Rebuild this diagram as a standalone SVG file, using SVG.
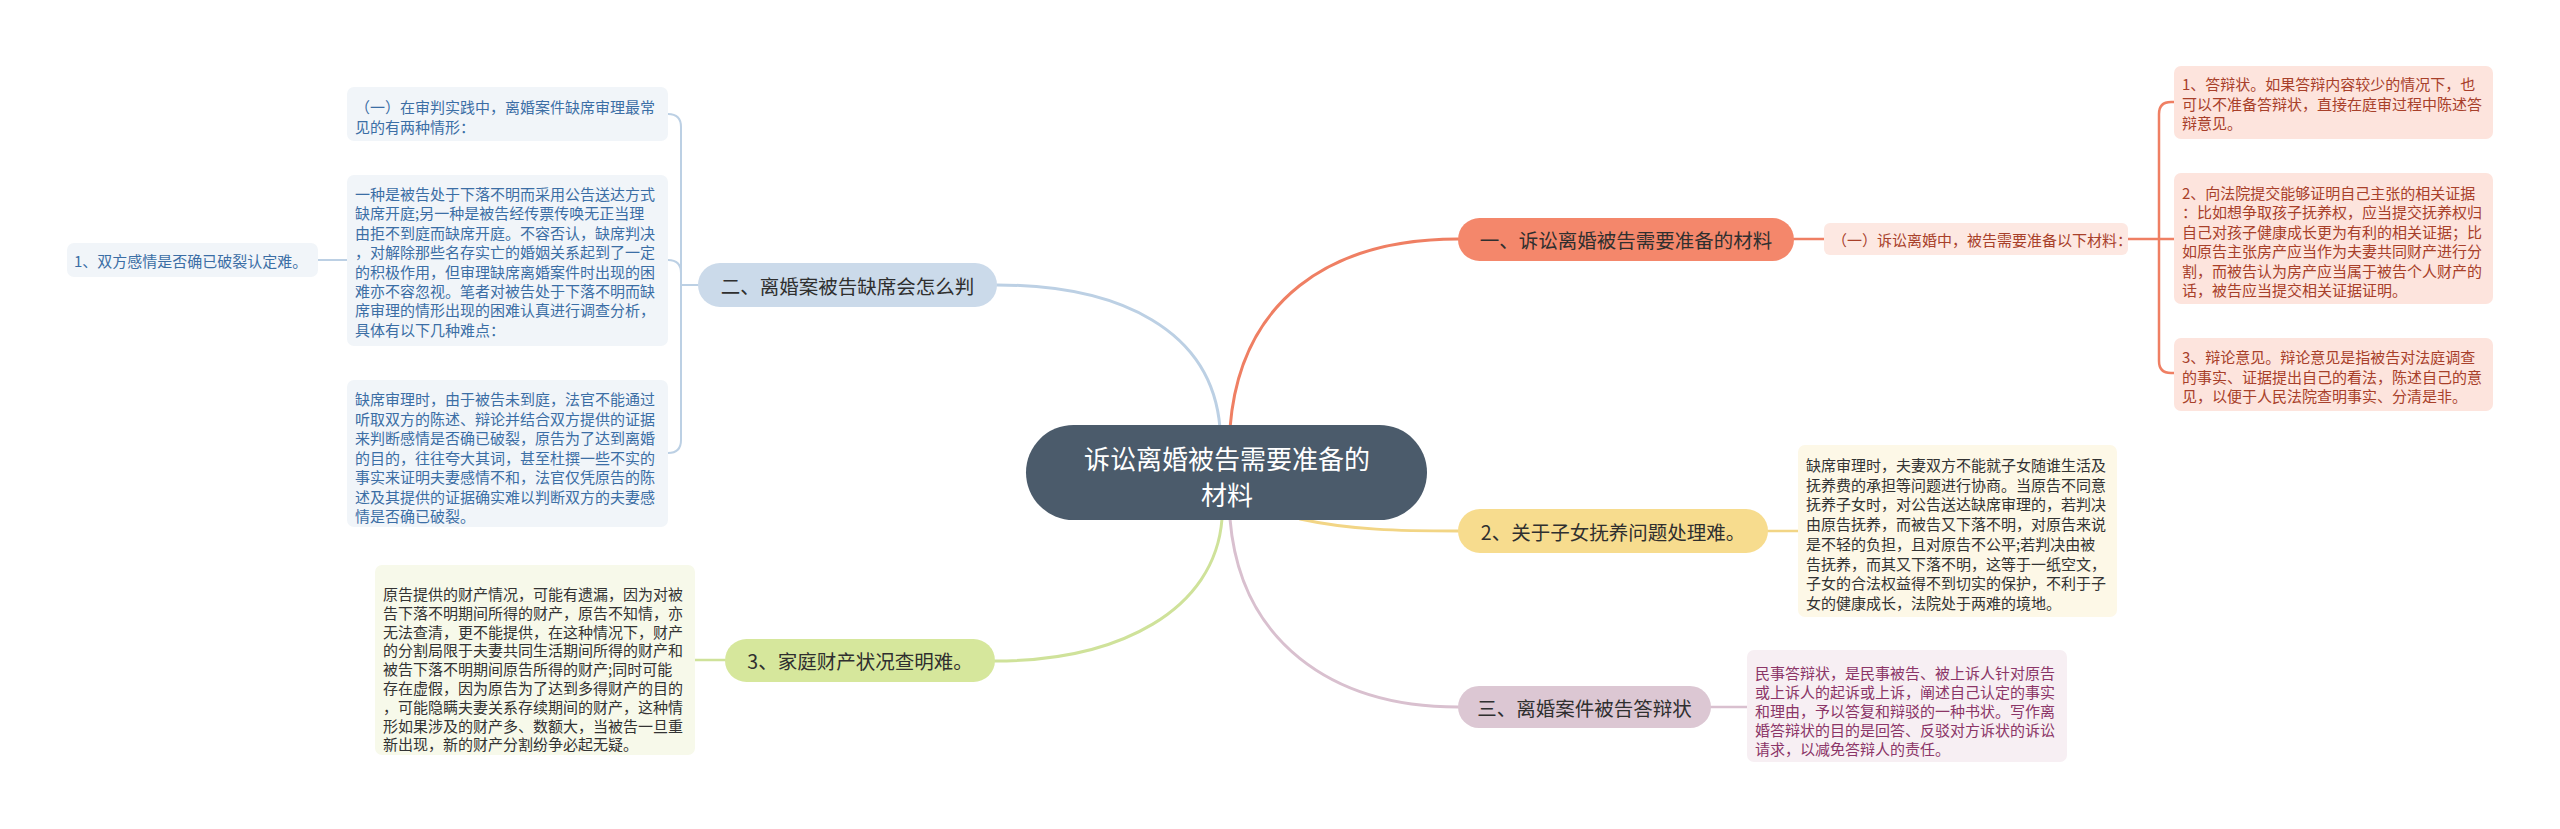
<svg xmlns="http://www.w3.org/2000/svg" width="2560" height="829" viewBox="0 0 2560 829">
<style>
text{font-family:"Noto Sans CJK SC","Noto Sans",sans-serif;dominant-baseline:central}
.main{font-size:19.5px;fill:#2f2f2f;text-anchor:middle}
.lf{font-size:15px}
.blue{fill:#3b6ea5}
.dark{fill:#333333}
.red{fill:#a8402a}
.plum{fill:#8b3567}
.c{fill:none;stroke-linecap:round}
</style>
<rect width="2560" height="829" fill="#ffffff"/>
<g id="connectors">
  <path class="c" d="M1230,428 C1240,300 1330,239 1458,239" stroke="#ef7f63" stroke-width="3"/>
  <path class="c" d="M1220,428 C1212,330 1120,285 997,285" stroke="#bcd0e4" stroke-width="3"/>
  <path class="c" d="M1300,519 C1350,530 1400,531 1458,531" stroke="#f2d585" stroke-width="3"/>
  <path class="c" d="M1222,519 C1215,610 1120,661 995,661" stroke="#cfe29a" stroke-width="3"/>
  <path class="c" d="M1230,519 C1240,640 1330,707 1458,707" stroke="#d9c0cf" stroke-width="3"/>
  <path class="c" d="M1794,239 H1824" stroke="#ef7f63" stroke-width="2.5"/>
  <path class="c" d="M2128,239 H2174 M2174,102 H2171 Q2159,102 2159,114 V361 Q2159,373 2171,373 H2174" stroke="#ef7f63" stroke-width="2.5"/>
  <path class="c" d="M668,114 Q681,114 681,127 V440 Q681,453 668,453 M668,260 Q681,260 681,273 M681,285 H698" stroke="#bcd0e4" stroke-width="2"/>
  <path class="c" d="M318,260 H347" stroke="#bcd0e4" stroke-width="2"/>
  <path class="c" d="M695,660 H725" stroke="#cfe29a" stroke-width="2.5"/>
  <path class="c" d="M1768,531 H1798" stroke="#f2d585" stroke-width="2.5"/>
  <path class="c" d="M1711,707 H1747" stroke="#d9c0cf" stroke-width="2.5"/>
</g>
<g id="root">
  <rect x="1026" y="425" width="401" height="95" rx="47.5" fill="#4b5b6b"/>
  <text x="1227" y="457" font-size="26" fill="#ffffff" text-anchor="middle">诉讼离婚被告需要准备的</text>
  <text x="1227" y="493" font-size="26" fill="#ffffff" text-anchor="middle">材料</text>
</g>
<g id="node-yi">
  <rect x="1458" y="218" width="336" height="43" rx="21.5" fill="#f4876b"/>
  <text class="main" x="1626" y="239.5">一、诉讼离婚被告需要准备的材料</text>
</g>
<g id="leaf-yi-1">
  <rect x="1824" y="223" width="304" height="32" rx="6" fill="#fde8e2"/>
  <text class="lf red" x="1832" y="239">（一）诉讼离婚中，被告需要准备以下材料：</text>
</g>
<g id="leaf-r1">
  <rect x="2174" y="66" width="319" height="73" rx="7" fill="#fde4dd"/>
  <text class="lf red"><tspan x="2182" y="83">1、答辩状。如果答辩内容较少的情况下，也</tspan><tspan x="2182" y="102.5">可以不准备答辩状，直接在庭审过程中陈述答</tspan><tspan x="2182" y="122">辩意见。</tspan></text>
</g>
<g id="leaf-r2">
  <rect x="2174" y="173" width="319" height="131" rx="7" fill="#fde4dd"/>
  <text class="lf red"><tspan x="2182" y="192">2、向法院提交能够证明自己主张的相关证据</tspan><tspan x="2182" y="211.4">：比如想争取孩子抚养权，应当提交抚养权归</tspan><tspan x="2182" y="230.8">自己对孩子健康成长更为有利的相关证据；比</tspan><tspan x="2182" y="250.2">如原告主张房产应当作为夫妻共同财产进行分</tspan><tspan x="2182" y="269.6">割，而被告认为房产应当属于被告个人财产的</tspan><tspan x="2182" y="289">话，被告应当提交相关证据证明。</tspan></text>
</g>
<g id="leaf-r3">
  <rect x="2174" y="338" width="319" height="73" rx="7" fill="#fde4dd"/>
  <text class="lf red"><tspan x="2182" y="356">3、辩论意见。辩论意见是指被告对法庭调查</tspan><tspan x="2182" y="375.5">的事实、证据提出自己的看法，陈述自己的意</tspan><tspan x="2182" y="395">见，以便于人民法院查明事实、分清是非。</tspan></text>
</g>
<g id="node-er">
  <rect x="698" y="263" width="299" height="44" rx="22" fill="#cbdaea"/>
  <text class="main" x="847.5" y="285">二、离婚案被告缺席会怎么判</text>
</g>
<g id="leaf-er-a">
  <rect x="347" y="87" width="321" height="54" rx="7" fill="#f1f5f9"/>
  <text class="lf blue"><tspan x="355" y="106">（一）在审判实践中，离婚案件缺席审理最常</tspan><tspan x="355" y="125.5">见的有两种情形：</tspan></text>
</g>
<g id="leaf-er-b">
  <rect x="347" y="175" width="321" height="171" rx="7" fill="#f1f5f9"/>
  <text class="lf blue"><tspan x="355" y="193">一种是被告处于下落不明而采用公告送达方式</tspan><tspan x="355" y="212.4">缺席开庭;另一种是被告经传票传唤无正当理</tspan><tspan x="355" y="231.8">由拒不到庭而缺席开庭。不容否认，缺席判决</tspan><tspan x="355" y="251.2">，对解除那些名存实亡的婚姻关系起到了一定</tspan><tspan x="355" y="270.6">的积极作用，但审理缺席离婚案件时出现的困</tspan><tspan x="355" y="290">难亦不容忽视。笔者对被告处于下落不明而缺</tspan><tspan x="355" y="309.4">席审理的情形出现的困难认真进行调查分析，</tspan><tspan x="355" y="328.8">具体有以下几种难点：</tspan></text>
</g>
<g id="leaf-er-b1">
  <rect x="67" y="243" width="251" height="34" rx="7" fill="#f1f5f9"/>
  <text class="lf blue" x="74" y="260">1、双方感情是否确已破裂认定难。</text>
</g>
<g id="leaf-er-c">
  <rect x="347" y="380" width="321" height="147" rx="7" fill="#f1f5f9"/>
  <text class="lf blue"><tspan x="355" y="398">缺席审理时，由于被告未到庭，法官不能通过</tspan><tspan x="355" y="417.5">听取双方的陈述、辩论并结合双方提供的证据</tspan><tspan x="355" y="437">来判断感情是否确已破裂，原告为了达到离婚</tspan><tspan x="355" y="456.5">的目的，往往夸大其词，甚至杜撰一些不实的</tspan><tspan x="355" y="476">事实来证明夫妻感情不和，法官仅凭原告的陈</tspan><tspan x="355" y="495.5">述及其提供的证据确实难以判断双方的夫妻感</tspan><tspan x="355" y="515">情是否确已破裂。</tspan></text>
</g>
<g id="node-2">
  <rect x="1458" y="509" width="310" height="44" rx="22" fill="#f7dc8e"/>
  <text class="main" x="1613" y="531">2、关于子女抚养问题处理难。</text>
</g>
<g id="leaf-2">
  <rect x="1798" y="445" width="319" height="172" rx="7" fill="#fdf8e7"/>
  <text class="lf dark"><tspan x="1806" y="464">缺席审理时，夫妻双方不能就子女随谁生活及</tspan><tspan x="1806" y="483.7">抚养费的承担等问题进行协商。当原告不同意</tspan><tspan x="1806" y="503.4">抚养子女时，对公告送达缺席审理的，若判决</tspan><tspan x="1806" y="523.1">由原告抚养，而被告又下落不明，对原告来说</tspan><tspan x="1806" y="542.8">是不轻的负担，且对原告不公平;若判决由被</tspan><tspan x="1806" y="562.5">告抚养，而其又下落不明，这等于一纸空文，</tspan><tspan x="1806" y="582.2">子女的合法权益得不到切实的保护，不利于子</tspan><tspan x="1806" y="601.9">女的健康成长，法院处于两难的境地。</tspan></text>
</g>
<g id="node-3">
  <rect x="725" y="639" width="270" height="43" rx="21.5" fill="#d6e79c"/>
  <text class="main" x="860" y="660.5">3、家庭财产状况查明难。</text>
</g>
<g id="leaf-3">
  <rect x="375" y="565" width="320" height="190" rx="7" fill="#f7f9ea"/>
  <text class="lf dark"><tspan x="383" y="593">原告提供的财产情况，可能有遗漏，因为对被</tspan><tspan x="383" y="611.8">告下落不明期间所得的财产，原告不知情，亦</tspan><tspan x="383" y="630.6">无法查清，更不能提供，在这种情况下，财产</tspan><tspan x="383" y="649.4">的分割局限于夫妻共同生活期间所得的财产和</tspan><tspan x="383" y="668.2">被告下落不明期间原告所得的财产;同时可能</tspan><tspan x="383" y="687">存在虚假，因为原告为了达到多得财产的目的</tspan><tspan x="383" y="705.8">，可能隐瞒夫妻关系存续期间的财产，这种情</tspan><tspan x="383" y="724.6">形如果涉及的财产多、数额大，当被告一旦重</tspan><tspan x="383" y="743.4">新出现，新的财产分割纷争必起无疑。</tspan></text>
</g>
<g id="node-san">
  <rect x="1458" y="686" width="253" height="42" rx="21" fill="#dcc7d3"/>
  <text class="main" x="1584.5" y="707">三、离婚案件被告答辩状</text>
</g>
<g id="leaf-san">
  <rect x="1747" y="650" width="320" height="112" rx="7" fill="#f7eff3"/>
  <text class="lf plum"><tspan x="1755" y="672">民事答辩状，是民事被告、被上诉人针对原告</tspan><tspan x="1755" y="691">或上诉人的起诉或上诉，阐述自己认定的事实</tspan><tspan x="1755" y="710">和理由，予以答复和辩驳的一种书状。写作离</tspan><tspan x="1755" y="729">婚答辩状的目的是回答、反驳对方诉状的诉讼</tspan><tspan x="1755" y="748">请求，以减免答辩人的责任。</tspan></text>
</g>
</svg>
